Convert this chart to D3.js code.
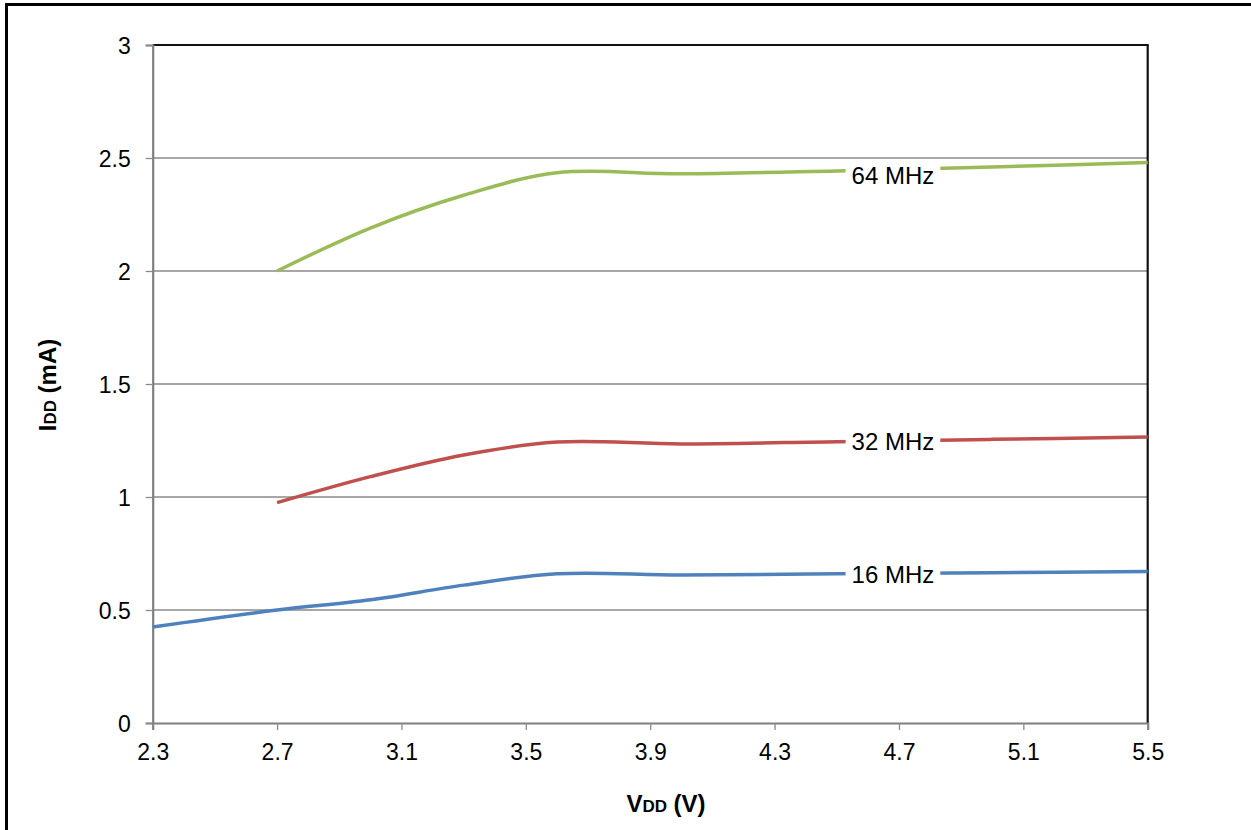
<!DOCTYPE html>
<html><head><meta charset="utf-8">
<script src="https://cdn.jsdelivr.net/npm/d3@7"></script>
<style>body{margin:0;background:#fff}svg{display:block}text{font-family:"Liberation Sans",Arial,sans-serif}</style>
</head><body><svg id="c" width="1251" height="830"></svg>
<script>
const voltages = [2.3, 2.7, 3.0, 3.3, 3.6, 4.0, 4.5, 5.0, 5.5];
const idd16 = [0.425, 0.50, 0.545, 0.61, 0.66, 0.655, 0.66, 0.665, 0.67];
const idd32 = [null, 0.975, 1.09, 1.186, 1.243, 1.235, 1.245, 1.255, 1.265];
const idd64 = [null, 2.00, 2.19, 2.335, 2.435, 2.43, 2.443, 2.46, 2.48];
const seriesNames = ["16 MHz", "32 MHz", "64 MHz"];
const seriesColors = ["#4F81BD", "#C0504D", "#9BBB59"];
const xTicks = [2.3, 2.7, 3.1, 3.5, 3.9, 4.3, 4.7, 5.1, 5.5];
const yTicks = [0, 0.5, 1, 1.5, 2, 2.5, 3];
const labelAt = 4.7;

const svg = d3.select("#c");
const L = 152.7, R = 1147.7, T = 45, B = 723;
const x = d3.scaleLinear().domain([2.3, 5.5]).range([L, R]);
const y = d3.scaleLinear().domain([0, 3]).range([B, T]);
const labelShift = [1, 1, 6];

// outer frame
svg.append("rect").attr("x", 6.5).attr("y", 4.5).attr("width", 1300).attr("height", 900)
  .attr("fill", "none").attr("stroke", "#000").attr("stroke-width", 3);

// gridlines
svg.append("g").selectAll("line").data(yTicks.filter(d => d > 0 && d < 3)).join("line")
  .attr("x1", L).attr("x2", R).attr("y1", d => y(d)).attr("y2", d => y(d))
  .attr("stroke", "#8a8a8a").attr("stroke-width", 1.3);

// plot border top/right
svg.append("line").attr("x1", L).attr("x2", R + 1).attr("y1", T).attr("y2", T).attr("stroke", "#111").attr("stroke-width", 2.2);
svg.append("line").attr("x1", R).attr("x2", R).attr("y1", T).attr("y2", B).attr("stroke", "#111").attr("stroke-width", 2.2);

// axes
const yAxis = d3.axisLeft(y).tickValues(yTicks).tickSize(7).tickPadding(15).tickFormat(d => d3.format("")(d));
const gy = svg.append("g").attr("transform", `translate(${L},0)`).call(yAxis);
const xAxis = d3.axisBottom(x).tickValues(xTicks).tickSize(7).tickPadding(13).tickFormat(d3.format(".1f"));
const gx = svg.append("g").attr("transform", `translate(0,${B})`).call(xAxis);
[gx, gy].forEach(g => {
  g.select(".domain").attr("stroke", "#7f7f7f").attr("stroke-width", 2.2);
  g.selectAll(".tick line").attr("stroke", "#8a8a8a").attr("stroke-width", 1.3);
  g.selectAll(".tick text").attr("fill", "#000").style("font-size", "23px");
});
gy.selectAll(".tick text").attr("dy", "0.36em");
gx.selectAll(".tick text").attr("dy", "0.75em");

// lines
const seriesData = [idd16, idd32, idd64];
const line = d3.line().defined(d => d[1] != null).x(d => x(d[0])).y(d => y(d[1])).curve(d3.curveCatmullRom.alpha(0.5));
seriesData.forEach((vals, i) => {
  const pts = voltages.map((v, j) => [v, vals[j]]).filter(d => d[1] != null);
  svg.append("path").datum(pts).attr("d", line).attr("fill", "none")
    .attr("stroke", seriesColors[i]).attr("stroke-width", 3.5);
  // label
  let k = 0; while (k < pts.length - 1 && pts[k + 1][0] < labelAt) k++;
  const t = (labelAt - pts[k][0]) / (pts[k + 1][0] - pts[k][0]);
  const ly = pts[k][1] + t * (pts[k + 1][1] - pts[k][1]);
  const cx = x(labelAt) - 6, cy = y(ly) + labelShift[i];
  const g = svg.append("g");
  const txt = g.append("text").attr("x", cx).attr("y", cy).attr("dy", "0.35em").attr("text-anchor", "middle")
    .style("font-size", "24px").attr("fill", "#000").text(seriesNames[i]);
  const bb = txt.node().getBBox();
  g.insert("rect", "text").attr("x", bb.x - 6).attr("y", bb.y + 1).attr("width", bb.width + 12).attr("height", bb.height - 2).attr("fill", "#fff");
});

// axis titles
const xt = svg.append("text").attr("x", 666).attr("y", 812).attr("text-anchor", "middle")
  .style("font-size", "24px").style("font-weight", "bold");
xt.append("tspan").text("V");
xt.append("tspan").style("font-size", "17px").text("DD");
xt.append("tspan").text(" (V)");
const yt = svg.append("text").attr("transform", "translate(56,385) rotate(-90)").attr("text-anchor", "middle")
  .style("font-size", "24px").style("font-weight", "bold");
yt.append("tspan").text("I");
yt.append("tspan").style("font-size", "17px").text("DD");
yt.append("tspan").text(" (mA)");
</script></body></html>
